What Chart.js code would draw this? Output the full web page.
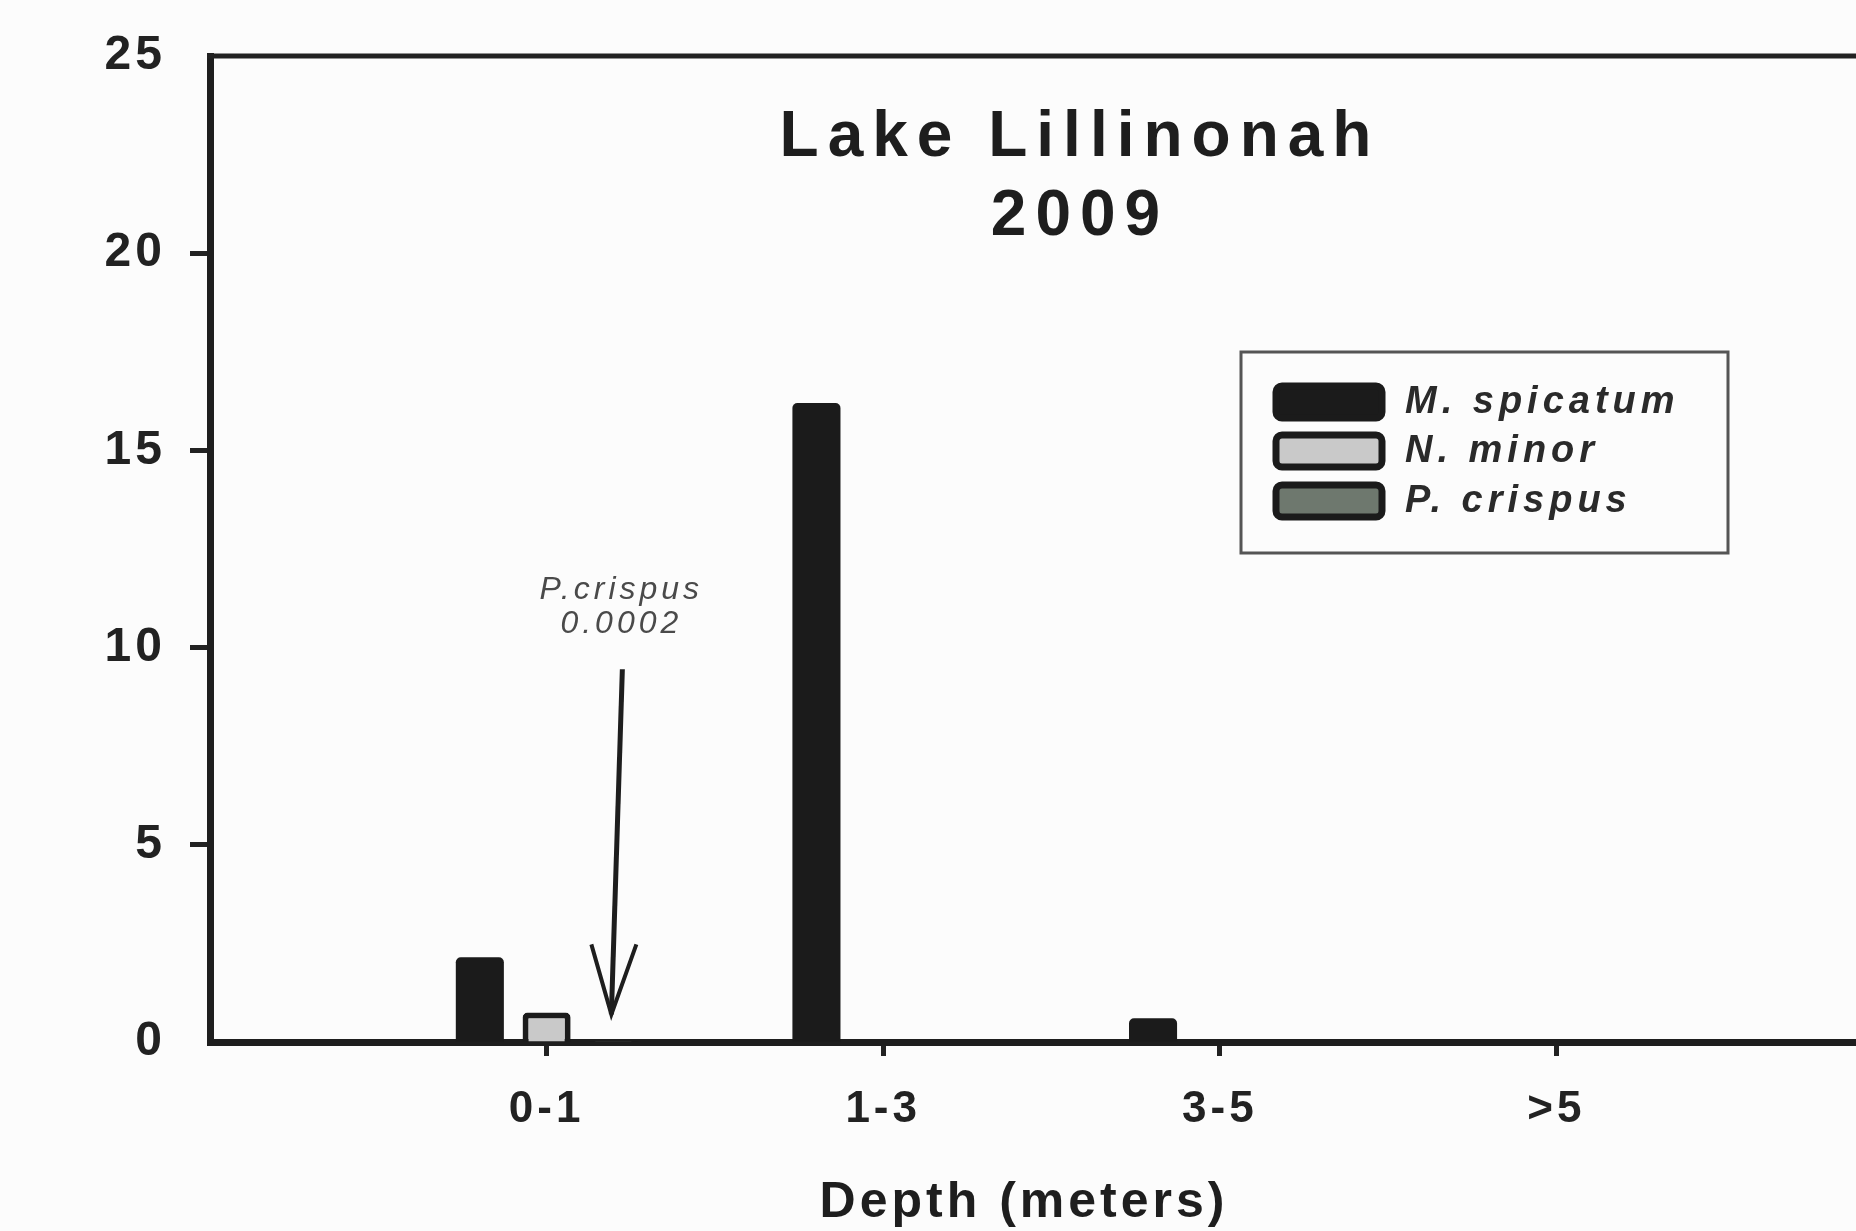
<!DOCTYPE html>
<html>
<head>
<meta charset="utf-8">
<script src="https://cdn.jsdelivr.net/npm/chart.js@4"></script>
<style>
  body { margin: 0; background: #fcfcfc; overflow: hidden; }
  #wrap { width: 1920px; height: 1231px; }
</style>
</head>
<body>
<div id="wrap"><canvas id="grafico" width="1920" height="1231"></canvas></div>
<script>
// categorias (vacias a los lados para dejar el hueco del eje)
const depths = ["", "0-1", "1-3", "3-5", ">5", ""];
const species = ["M. spicatum", "N. minor", "P. crispus"];
const mSpicatum = [null, 2.15, 16.2, 0.6, 0, null];
const nMinor = [null, 0.75, 0, 0, 0, null];
const pCrispus = [null, 0.0002, 0, 0, 0, null];
const yTicks = [0, 5, 10, 15, 20, 25];

const fillColors = ["#1b1b1b", "#c9c9c9", "#6e786e"];
const FONT = "'Liberation Sans', Arial, sans-serif";

const extras = {
  id: "extras",
  beforeDraw(chart) {
    chart.ctx.letterSpacing = "4px";
  },
  afterDraw(chart) {
    const ctx = chart.ctx;
    const area = chart.chartArea;
    ctx.save();

    // linea superior del marco
    ctx.strokeStyle = "#222";
    ctx.lineWidth = 5;
    ctx.beginPath();
    ctx.moveTo(area.left - 3, area.top);
    ctx.lineTo(area.right, area.top);
    ctx.stroke();

    // titulo
    ctx.fillStyle = "#1e1e1e";
    ctx.textAlign = "center";
    ctx.textBaseline = "middle";
    ctx.letterSpacing = "9px";
    ctx.font = "bold 64px " + FONT;
    ctx.fillText("Lake Lillinonah", 1080, 138);
    ctx.fillText("2009", 1080, 217);

    // titulo del eje x
    ctx.letterSpacing = "4px";
    ctx.font = "bold 50px " + FONT;
    ctx.fillText("Depth (meters)", 1024, 1203);

    // leyenda
    ctx.strokeStyle = "#555";
    ctx.lineWidth = 3;
    ctx.strokeRect(1241, 352, 487, 201);
    const rows = [402, 451, 501];
    chart.data.datasets.forEach((ds, i) => {
      const y = rows[i];
      ctx.beginPath();
      ctx.roundRect(1276, y - 16, 106, 32, 6);
      ctx.fillStyle = ds.backgroundColor;
      ctx.fill();
      ctx.lineWidth = 7;
      ctx.strokeStyle = "#1b1b1b";
      ctx.stroke();
      ctx.fillStyle = "#2a2a2a";
      ctx.textAlign = "left";
      ctx.letterSpacing = "5px";
      ctx.font = "italic bold 38px " + FONT;
      ctx.fillText(ds.label, 1405, y + 1);
    });

    // nota con flecha para P. crispus
    const bar = chart.getDatasetMeta(2).data[1];
    const ys = chart.scales.y;
    const bx = bar.x;
    const tipY = ys.getPixelForValue(0.7);
    const topY = ys.getPixelForValue(9.45);
    ctx.strokeStyle = "#1e1e1e";
    ctx.lineWidth = 5;
    ctx.beginPath();
    ctx.moveTo(bx + 9, topY);
    ctx.lineTo(bx - 2, tipY);
    ctx.stroke();
    ctx.lineWidth = 4;
    ctx.beginPath();
    ctx.moveTo(bx - 22, tipY - 70);
    ctx.lineTo(bx - 2, tipY);
    ctx.lineTo(bx + 23, tipY - 70);
    ctx.stroke();
    ctx.fillStyle = "#4a4a4a";
    ctx.textAlign = "center";
    ctx.textBaseline = "alphabetic";
    ctx.letterSpacing = "4px";
    ctx.font = "italic 32px " + FONT;
    ctx.fillText("P.crispus", bx + 8, topY - 70);
    ctx.fillText("0.0002", bx + 8, topY - 36);
    ctx.restore();
  }
};

const ctx = document.getElementById("grafico").getContext("2d");
const grafico = new Chart(ctx, {
  type: "bar",
  data: {
    labels: depths,
    datasets: [
      { label: species[0], data: mSpicatum, backgroundColor: fillColors[0], borderColor: "#1b1b1b", borderWidth: 0 },
      { label: species[1], data: nMinor, backgroundColor: fillColors[1], borderColor: "#1b1b1b", borderWidth: 6 },
      { label: species[2], data: pCrispus, backgroundColor: fillColors[2], borderColor: "#1b1b1b", borderWidth: 6 },
    ],
  },
  options: {
    responsive: false,
    animation: false,
    categoryPercentage: 0.595,
    barPercentage: 0.72,
    borderRadius: 5,
    layout: { padding: { left: 0, top: 56, right: 17, bottom: 0 } },
    plugins: { legend: { display: false }, tooltip: { enabled: false } },
    scales: {
      x: {
        offset: false,
        grid: {
          offset: false,
          drawOnChartArea: false,
          tickLength: 14,
          tickWidth: 5,
          tickColor: (c) => (c.tick && c.tick.label === "" ? "rgba(0,0,0,0)" : "#222"),
        },
        border: { color: "#1e1e1e", width: 7 },
        ticks: { color: "#222", padding: 27, font: { family: FONT, size: 44, weight: "bold" } },
        afterFit: (s) => { s.height = 189; },
      },
      y: {
        min: 0,
        max: 25,
        afterBuildTicks: (s) => { s.ticks = yTicks.map((v) => ({ value: v })); },
        grid: {
          drawOnChartArea: false,
          tickLength: 20,
          tickWidth: 5,
          tickColor: (c) => (c.tick && (c.tick.value === 0 || c.tick.value === 25) ? "rgba(0,0,0,0)" : "#222"),
        },
        border: { color: "#1e1e1e", width: 7 },
        ticks: { color: "#222", padding: 24, font: { family: FONT, size: 48, weight: "bold" } },
        afterFit: (s) => { s.width = 210; },
      },
    },
  },
  plugins: [extras],
});
</script>
</body>
</html>
